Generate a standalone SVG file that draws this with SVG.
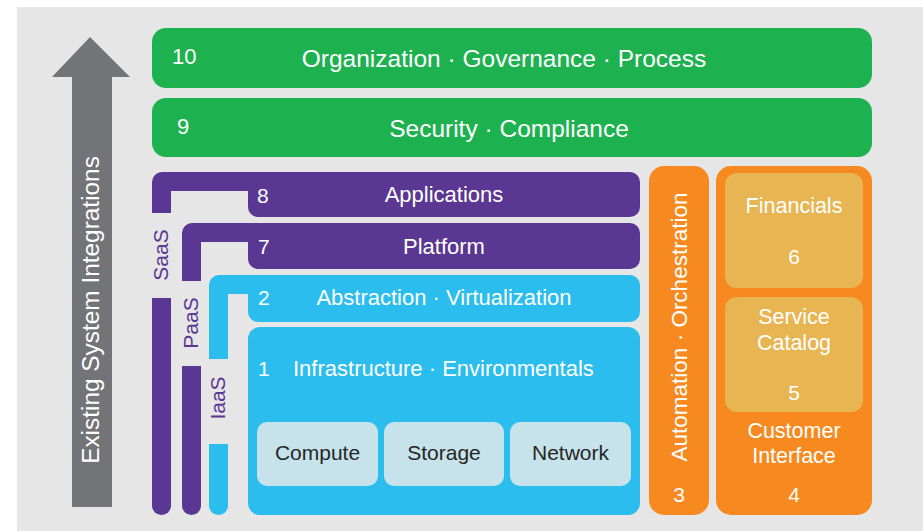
<svg xmlns="http://www.w3.org/2000/svg" width="923" height="531" viewBox="0 0 923 531">
<style>
text{font-family:"Liberation Sans",Arial,sans-serif;}
.w{fill:#ffffff;}
.t21{font-size:21px;}
.t22{font-size:22px;}
.bar{font-size:22px;}
.big{font-size:24.5px;}
.or{font-size:21.5px;}
.c{text-anchor:middle;}
.dk{fill:#262626;font-size:21px;text-anchor:middle;}
.pl{fill:#5a3792;font-size:21px;text-anchor:middle;}
.green{fill:#1db14f;}
.purple{fill:#5a3792;}
.cyan{fill:#2bbdee;}
.orange{fill:#f68a20;}
.lorange{fill:#e8b553;}
.lblue{fill:#c6e2ea;}
</style>
<rect x="0" y="0" width="923" height="531" fill="#ffffff"/>
<rect x="17" y="7" width="906" height="524" fill="#e6e6e6"/>

<g id="arrow">
<polygon points="90,37 130,77 112,77 112,507 72,507 72,77 52,77" fill="#737477"/>
<text class="w c" font-size="24.4" transform="translate(99,310) rotate(-90)">Existing System Integrations</text>
</g>

<g id="layer10">
<rect class="green" x="152" y="28" width="720" height="60" rx="14"/>
<text class="w t22" x="172" y="64">10</text>
<text class="w big c" x="504" y="67">Organization · Governance · Process</text>
</g>
<g id="layer9">
<rect class="green" x="152" y="98" width="720" height="59" rx="14"/>
<text class="w t22" x="177" y="134">9</text>
<text class="w big c" x="509" y="137">Security · Compliance</text>
</g>

<g id="saas">
<path class="purple" d="M152,182 A10,10 0 0 1 162,172 H630 A10,10 0 0 1 640,182 V207 A10,10 0 0 1 630,217 H258 A10,10 0 0 1 248,207 V191 H171 V213 H152 Z"/>
<path class="purple" d="M152,298 H171 V505.5 A9.5,9.5 0 0 1 152,505.5 Z"/>
<text class="pl" transform="translate(168,255) rotate(-90)">SaaS</text>
<text class="w t21" x="257" y="203">8</text>
<text class="w bar c" x="444" y="202">Applications</text>
</g>

<g id="paas">
<path class="purple" d="M182,233 A10,10 0 0 1 192,223 H630 A10,10 0 0 1 640,233 V259 A10,10 0 0 1 630,269 H258 A10,10 0 0 1 248,259 V242 H201 V281 H182 Z"/>
<path class="purple" d="M182,366 H201 V505.5 A9.5,9.5 0 0 1 182,505.5 Z"/>
<text class="pl" transform="translate(198,323) rotate(-90)">PaaS</text>
<text class="w t21" x="258" y="254">7</text>
<text class="w bar c" x="444" y="254">Platform</text>
</g>

<g id="iaas">
<path class="cyan" d="M209,285 A10,10 0 0 1 219,275 H630 A10,10 0 0 1 640,285 V312 A10,10 0 0 1 630,322 H258 A10,10 0 0 1 248,312 V294 H228 V359 H209 Z"/>
<path class="cyan" d="M209,444 H228 V505.5 A9.5,9.5 0 0 1 209,505.5 Z"/>
<text class="pl" transform="translate(225,398) rotate(-90)">IaaS</text>
<text class="w t21" x="258" y="305">2</text>
<text class="w bar c" x="444" y="305">Abstraction · Virtualization</text>
</g>

<g id="infrastructure">
<rect class="cyan" x="248" y="327" width="392" height="188" rx="12"/>
<text class="w t21" x="258" y="376">1</text>
<text class="w bar" x="293" y="376">Infrastructure · Environmentals</text>
</g>
<g id="compute">
<rect class="lblue" x="257" y="422" width="121" height="64" rx="10"/>
<text class="dk" x="317.5" y="460">Compute</text>
</g>
<g id="storage">
<rect class="lblue" x="384" y="422" width="120" height="64" rx="10"/>
<text class="dk" x="444" y="460">Storage</text>
</g>
<g id="network">
<rect class="lblue" x="510" y="422" width="121" height="64" rx="10"/>
<text class="dk" x="570.5" y="460">Network</text>
</g>

<g id="automation">
<rect class="orange" x="649" y="166" width="60" height="349" rx="15"/>
<text class="w c" font-size="22.5" transform="translate(687,327) rotate(-90)">Automation · Orchestration</text>
<text class="w t21 c" x="679" y="502">3</text>
</g>

<g id="customer-interface">
<rect class="orange" x="716" y="166" width="156" height="349" rx="15"/>
<text class="w or c" x="794" y="438">Customer</text>
<text class="w or c" x="794" y="463">Interface</text>
<text class="w t21 c" x="794" y="502">4</text>
</g>
<g id="financials">
<rect class="lorange" x="725" y="173" width="138" height="115" rx="12"/>
<text class="w or c" x="794" y="213">Financials</text>
<text class="w t21 c" x="794" y="264">6</text>
</g>
<g id="service-catalog">
<rect class="lorange" x="725" y="297" width="138" height="115" rx="12"/>
<text class="w or c" x="794" y="324">Service</text>
<text class="w or c" x="794" y="350">Catalog</text>
<text class="w t21 c" x="794" y="400">5</text>
</g>
<g id="connectors"></g>
</svg>
